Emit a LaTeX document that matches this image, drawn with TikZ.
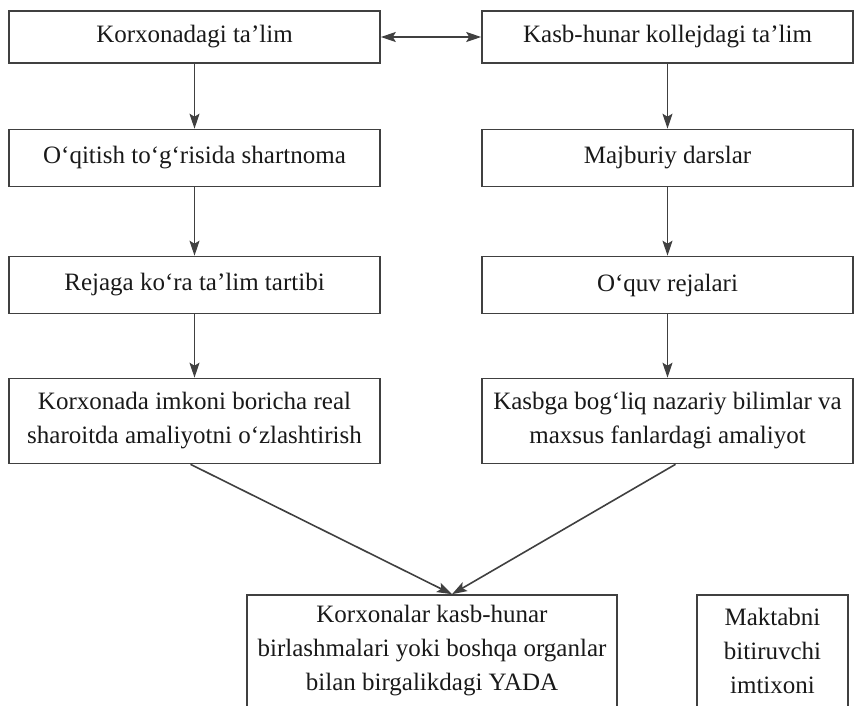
\documentclass[tikz,border=0pt]{standalone}
\usepackage{fontspec}
\setmainfont{Liberation Serif}
\usetikzlibrary{arrows.meta}
\usetikzlibrary{positioning}
\tikzstyle{arrow} = [line width=1.6pt,draw=black!75,-{Stealth[length=15pt,width=10pt,inset=3pt]}]
\tikzstyle{dblarrow} = [line width=1.6pt,draw=black!75,{Stealth[length=15pt,width=10pt,inset=3pt]}-{Stealth[length=15pt,width=10pt,inset=3pt]}]
\tikzstyle{blk} = [rectangle, draw=black!75, line width=1.6pt, minimum width=371pt, minimum height=57pt, align=center, text=black!90, font=\fontsize{25}{34}\selectfont]

\begin{document}
\begin{tikzpicture}[x=1pt, y=-1pt, node distance=120pt]
		\useasboundingbox (0,0) rectangle (854,705);
		\node (k1) [blk, minimum height=52pt] at (194.5,37) {Korxonadagi ta’lim};
		\node (c1) [blk, minimum height=52pt] at (667.5,37) {Kasb-hunar kollejdagi ta’lim};
		\draw [dblarrow] (k1) -- (c1);
		\node (k2) [blk, below of=k1, yshift=-1pt] {O‘qitish to‘g‘risida shartnoma};
		\node (c2) [blk, below of=c1, yshift=-1pt] {Majburiy darslar};
		\draw [arrow] (k1) -- (k2);
		\draw [arrow] (c1) -- (c2);
		\node (k3) [blk, below of=k2, yshift=-7pt] {Rejaga ko‘ra ta’lim tartibi};
		\node (c3) [blk, below of=c2, yshift=-7pt] {O‘quv rejalari};
		\draw [arrow] (k2) -- (k3);
		\draw [arrow] (c2) -- (c3);
		\node (k4) [blk, minimum height=85pt, below of=k3, yshift=-16pt] {Korxonada imkoni boricha real\\sharoitda amaliyotni o‘zlashtirish};
		\node (c4) [blk, minimum height=85pt, below of=c3, yshift=-16pt] {Kasbga bog‘liq nazariy bilimlar va\\maxsus fanlardagi amaliyot};
		\draw [arrow] (k3) -- (k4);
		\draw [arrow] (c3) -- (c4);
		\node (yada) [blk, minimum width=370pt, minimum height=112pt] at (432,651) {Korxonalar kasb-hunar\\birlashmalari yoki boshqa organlar\\bilan birgalikdagi YADA};
		\node (imtixon) [blk, minimum width=151pt, minimum height=112pt] at (772.5,651) {Maktabni\\bitiruvchi\\imtixoni};
		\draw [arrow] ([xshift=-4pt]k4.south) -- ([xshift=20pt]yada.north);
		\draw [arrow] ([xshift=8pt]c4.south) -- ([xshift=20pt]yada.north);
\end{tikzpicture}
\end{document}
